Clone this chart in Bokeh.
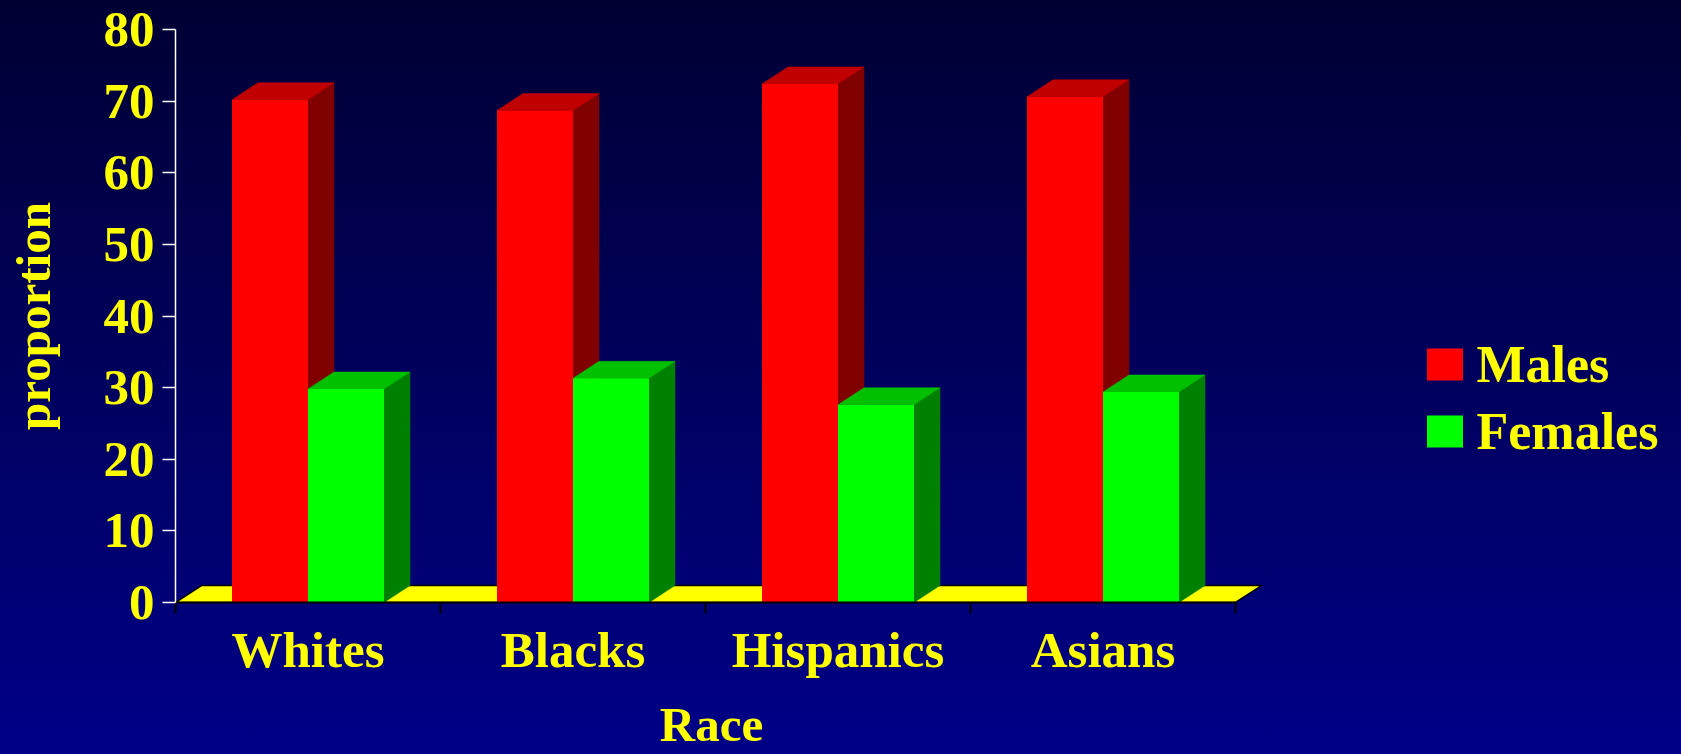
from bokeh.plotting import figure
from bokeh.models import Range1d, FixedTicker, Legend, LegendItem, InlineStyleSheet, LinearAxis
from bokeh.embed import file_html
from bokeh.resources import INLINE

# ---- data ----
categories = ["Whites", "Blacks", "Hispanics", "Asians"]
males = [70.2, 68.7, 72.4, 70.6]
females = [29.8, 31.3, 27.6, 29.4]
y_ticks = [0, 10, 20, 30, 40, 50, 60, 70, 80]
series_names = ["Males", "Females"]
x_title = "Race"
y_title = "proportion"

# ---- layout / style ----
W, H = 1681, 754
B_LEFT, B_RIGHT, B_TOP, B_BOTTOM = 175, 0, 29, 151
frame_w = W - B_LEFT - B_RIGHT
frame_h = H - B_TOP - B_BOTTOM
CAT_PX = 265.0
n = len(categories)
x_end = frame_w / CAT_PX
y_end = y_ticks[-1]
px_per_y = frame_h / y_end
ddx = 26 / CAT_PX
ddy = 17 / px_per_y
bw = 76 / CAT_PX
race_pos = round((711 - B_LEFT) / CAT_PX, 4)   # horizontal position of the x title

FONT = "Liberation Serif"
YELLOW = "#FFFF00"
colors = {"Males": ("#FF0000", "#C00000", "#800000"),
          "Females": ("#00FF00", "#00C000", "#008000")}

p = figure(width=W, height=H, x_range=Range1d(0, x_end), y_range=Range1d(0, y_end),
           output_backend="svg", toolbar_location=None,
           min_border_left=B_LEFT, min_border_right=B_RIGHT,
           min_border_top=B_TOP, min_border_bottom=B_BOTTOM)
p.background_fill_color = None
p.border_fill_color = None
p.outline_line_color = None
p.grid.visible = False
p.stylesheets = [InlineStyleSheet(css=":host { background: linear-gradient(to bottom, #000033 0%, #000088 100%); }")]

# floor
p.patch(x=[0, n, n + ddx, ddx], y=[0, 0, ddy, ddy], fill_color=YELLOW,
        line_color="black", line_width=1.5)

fronts = {}
for s_idx, (name, vals) in enumerate(zip(series_names, [males, females])):
    front_c, top_c, side_c = colors[name]
    x0 = [i + 0.5 - bw + s_idx * bw for i in range(n)]
    x1 = [v + bw for v in x0]
    side_xs = [[a, a, a + ddx, a + ddx] for a in x1]
    side_ys = [[0, v, v + ddy, ddy] for v in vals]
    p.patches(xs=side_xs, ys=side_ys, fill_color=side_c, line_color=side_c, line_width=0.5)
    top_xs = [[a, b, b + ddx, a + ddx] for a, b in zip(x0, x1)]
    top_ys = [[v, v, v + ddy, v + ddy] for v in vals]
    p.patches(xs=top_xs, ys=top_ys, fill_color=top_c, line_color=top_c, line_width=0.5)
    fronts[name] = p.quad(left=x0, right=x1, bottom=0, top=vals,
                          fill_color=front_c, line_color=None)

# y axis
ya = p.yaxis[0]
ya.ticker = FixedTicker(ticks=y_ticks, minor_ticks=[])
ya.axis_line_color = "white"
ya.axis_line_width = 1.5
ya.major_tick_line_color = "white"
ya.major_tick_line_width = 1.5
ya.major_tick_out = 13
ya.major_tick_in = 0
ya.major_label_standoff = 8
ya.major_label_text_font = FONT
ya.major_label_text_font_style = "bold"
ya.major_label_text_font_size = "51px"
ya.major_label_text_color = YELLOW
ya.axis_label = y_title
ya.axis_label_text_font = FONT
ya.axis_label_text_font_style = "bold"
ya.axis_label_text_font_size = "49px"
ya.axis_label_text_color = YELLOW
ya.axis_label_standoff = 40

# x axis
xa = p.xaxis[0]
xa.ticker = FixedTicker(ticks=[i + 0.5 for i in range(n)], minor_ticks=list(range(n + 1)))
xa.major_label_overrides = {i + 0.5: c for i, c in enumerate(categories)}
xa.bounds = (0, n)
xa.axis_line_color = "black"
xa.axis_line_width = 2
xa.major_tick_line_color = None
xa.major_tick_out = 0
xa.major_tick_in = 0
xa.minor_tick_line_color = "black"
xa.minor_tick_line_width = 2
xa.minor_tick_out = 11
xa.minor_tick_in = 0
xa.major_label_standoff = 8
xa.major_label_text_font = FONT
xa.major_label_text_font_style = "bold"
xa.major_label_text_font_size = "51px"
xa.major_label_text_color = YELLOW

# x axis title, as a label-only axis row beneath the category labels
xt = LinearAxis(ticker=FixedTicker(ticks=[race_pos], minor_ticks=[]),
                major_label_overrides={race_pos: x_title},
                axis_line_color=None, major_tick_line_color=None, minor_tick_line_color=None,
                major_tick_out=0, major_tick_in=0, minor_tick_out=0, minor_tick_in=0,
                major_label_standoff=16, major_label_text_font=FONT,
                major_label_text_font_style="bold", major_label_text_font_size="49px",
                major_label_text_color=YELLOW)
p.add_layout(xt, "below")

legend = Legend(items=[LegendItem(label=nm, renderers=[fronts[nm]]) for nm in series_names],
                location=(1246.5, 141.5), glyph_width=45, glyph_height=40, label_standoff=10,
                spacing=8, padding=0, margin=0, border_line_color=None,
                background_fill_alpha=0, label_text_font=FONT,
                label_text_font_style="bold", label_text_font_size="52px",
                label_text_color=YELLOW)
p.add_layout(legend)

open("out.html", "w").write(file_html(p, INLINE))
